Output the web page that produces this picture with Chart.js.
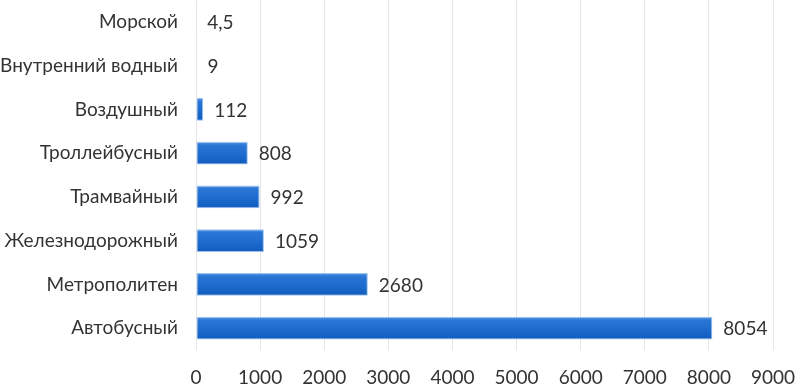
<!DOCTYPE html>
<html lang="ru">
<head>
<meta charset="utf-8">
<title>Пассажирооборот по видам транспорта</title>
<script src="https://cdn.jsdelivr.net/npm/chart.js@4.4.1/dist/chart.umd.min.js"></script>
<style>
    html, body { margin: 0; padding: 0; background: #ffffff; }
    #wrap { width: 795px; height: 384px; position: relative; }
</style>
</head>
<body>
<div id="wrap"><canvas id="transportChart"></canvas></div>
<script>
// Categories (top to bottom as in the picture)
const categories = ['Морской', 'Внутренний водный', 'Воздушный', 'Троллейбусный',
    'Трамвайный', 'Железнодорожный', 'Метрополитен', 'Автобусный'];
const values = [4.5, 9, 112, 808, 992, 1059, 2680, 8054];
const xTicks = [0, 1000, 2000, 3000, 4000, 5000, 6000, 7000, 8000, 9000];

const BAR_PCT = 0.52;
const FONT = 'Lato, "Open Sans", sans-serif';
const FONT_SIZE = 19;

// Vertical gradient for each bar
function barFill(context) {
    const chart = context.chart;
    const area = chart.chartArea;
    if (!area || !chart.scales.y) return '#1a68cc';
    const yc = chart.scales.y.getPixelForValue(context.dataIndex);
    const h = (area.bottom - area.top) / categories.length * BAR_PCT;
    const g = chart.ctx.createLinearGradient(0, yc - h / 2, 0, yc + h / 2);
    g.addColorStop(0, '#5d9be4');
    g.addColorStop(0.15, '#2a76d5');
    g.addColorStop(0.6, '#1b6acc');
    g.addColorStop(1, '#105cbd');
    return g;
}

// Value labels at the end of bars
const valueLabels = {
    id: 'valueLabels',
    afterDatasetsDraw(chart) {
        const ctx = chart.ctx;
        const meta = chart.getDatasetMeta(0);
        ctx.save();
        ctx.font = FONT_SIZE + 'px ' + FONT;
        ctx.fillStyle = '#333333';
        ctx.textAlign = 'left';
        ctx.textBaseline = 'middle';
        meta.data.forEach(function(bar, i) {
            const txt = String(values[i]).replace('.', ',');
            ctx.fillText(txt, bar.x + 11, bar.y + 1);
        });
        ctx.restore();
    }
};

new Chart(document.getElementById('transportChart'), {
    type: 'bar',
    data: {
        labels: categories,
        datasets: [{
            data: values,
            backgroundColor: barFill,
            borderColor: '#9cc2ee',
            borderWidth: 1,
            borderSkipped: false,
            barPercentage: BAR_PCT,
            categoryPercentage: 1
        }]
    },
    options: {
        indexAxis: 'y',
        responsive: true,
        maintainAspectRatio: false,
        animation: false,
        layout: { padding: { top: 0, right: 22, bottom: 0, left: 0 } },
        plugins: {
            legend: { display: false },
            tooltip: { enabled: false }
        },
        scales: {
            x: {
                min: 0,
                max: 9000,
                afterBuildTicks: function(axis) {
                    axis.ticks = xTicks.map(v => ({ value: v }));
                },
                afterFit: function(axis) {
                    axis.height = 34;
                    axis.paddingLeft = 0;
                    axis.paddingRight = 0;
                },
                grid: { color: '#e6e6e6', lineWidth: 1, drawTicks: false },
                border: { display: false },
                ticks: {
                    padding: 18,
                    color: '#333333',
                    font: { family: FONT, size: FONT_SIZE, lineHeight: 1.0 },
                    maxRotation: 0,
                    callback: function(value) { return String(value); }
                }
            },
            y: {
                afterFit: function(axis) {
                    axis.width = 196;
                    axis.paddingTop = 0;
                    axis.paddingBottom = 0;
                },
                grid: { display: false, drawTicks: false },
                border: { display: false },
                ticks: {
                    padding: 18,
                    color: '#333333',
                    font: { family: FONT, size: FONT_SIZE }
                }
            }
        }
    },
    plugins: [valueLabels]
});
</script>
</body>
</html>
